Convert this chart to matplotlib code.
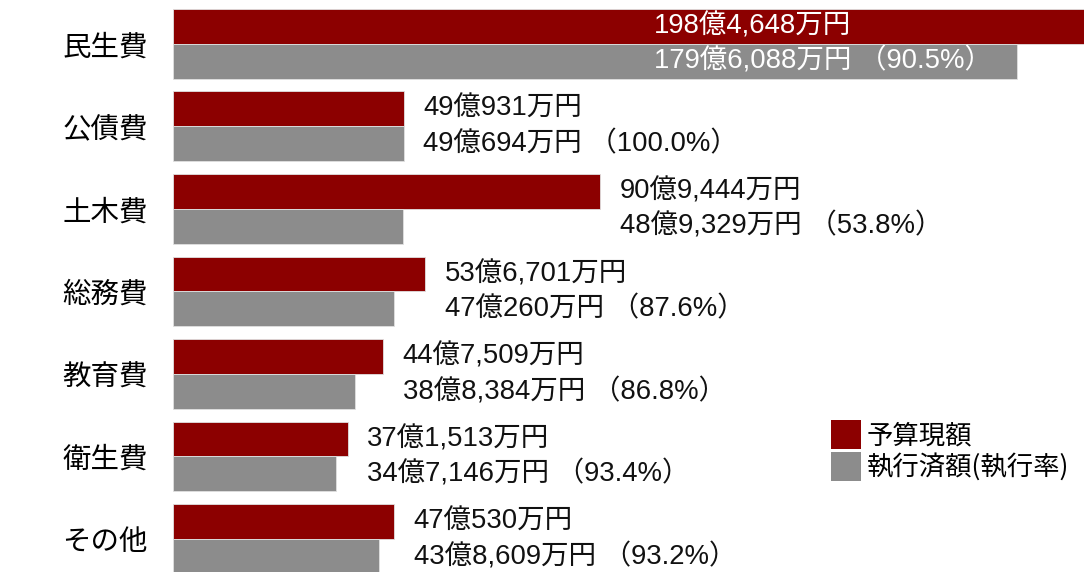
import numpy as np
import matplotlib.pyplot as plt
from matplotlib.patches import Patch

# ====== データ（億円） ======
categories = ["民生費", "公債費", "土木費", "総務費", "教育費", "衛生費", "その他"]
budget = [198.4648, 49.0931, 90.9444, 53.6701, 44.7509, 37.1513, 47.0530]
executed = [179.6088, 49.0694, 48.9329, 47.0260, 38.8384, 34.7146, 43.8609]
budget_labels = ["198億4,648万円", "49億931万円", "90億9,444万円", "53億6,701万円",
                 "44億7,509万円", "37億1,513万円", "47億530万円"]
executed_labels = ["179億6,088万円", "49億694万円", "48億9,329万円", "47億260万円",
                   "38億8,384万円", "34億7,146万円", "43億8,609万円"]
rates = ["90.5%", "100.0%", "53.8%", "87.6%", "86.8%", "93.4%", "93.2%"]

RED = "#8c0000"
GRAY = "#8c8c8c"
FONT = ["Liberation Sans", "Noto Sans CJK JP", "DejaVu Sans"]
plt.rcParams["font.family"] = FONT

fig = plt.figure(figsize=(10.84, 5.72), dpi=100)
ax = fig.add_axes([173 / 1084, 0, 1 - 173 / 1084, 1])

y = np.arange(len(categories))
h = 0.424
ax.barh(y - h / 2, budget, height=h, color=RED, edgecolor="#e0e0e0", linewidth=0.6)
ax.barh(y + h / 2, executed, height=h, color=GRAY, edgecolor="#e0e0e0", linewidth=0.6)

ax.set_xlim(0, 193.9)
ax.set_ylim(6.4, -0.533)

fs = 19.8
for i in range(len(categories)):
    t1 = budget_labels[i]
    t2 = f"{executed_labels[i]} （{rates[i]}）"
    if i == 0:
        # 最大のバーは内側に白字
        xpos = 102.4
        ax.text(xpos, i - h / 2, t1, color="white", fontsize=fs, va="center", ha="left")
        ax.text(xpos, i + h / 2, t2, color="white", fontsize=fs, va="center", ha="left")
    else:
        xm = max(budget[i], executed[i])
        for yy, t in [(i - h / 2, t1), (i + h / 2, t2)]:
            ax.annotate(t, (xm, yy), xytext=(14, 0), textcoords="offset points",
                        fontsize=fs, va="center", ha="left", color="#111111")

ax.set_yticks(y)
ax.set_yticklabels(categories, fontsize=20.5, family=["Noto Sans CJK JP"])
ax.tick_params(axis="y", length=0, pad=18)
ax.set_xticks([])
for s in ax.spines.values():
    s.set_visible(False)

handles = [Patch(facecolor=RED), Patch(facecolor=GRAY)]
fig.legend(handles, ["予算現額", "執行済額(執行率)"], loc="upper left",
           bbox_to_anchor=(0.757, 0.284), frameon=False,
           prop={"family": ["Noto Sans CJK JP"], "size": 19},
           handlelength=1.15, handleheight=1.3, handletextpad=0.2,
           labelspacing=0.1, borderaxespad=0)

fig.savefig("out.png", dpi=100)
